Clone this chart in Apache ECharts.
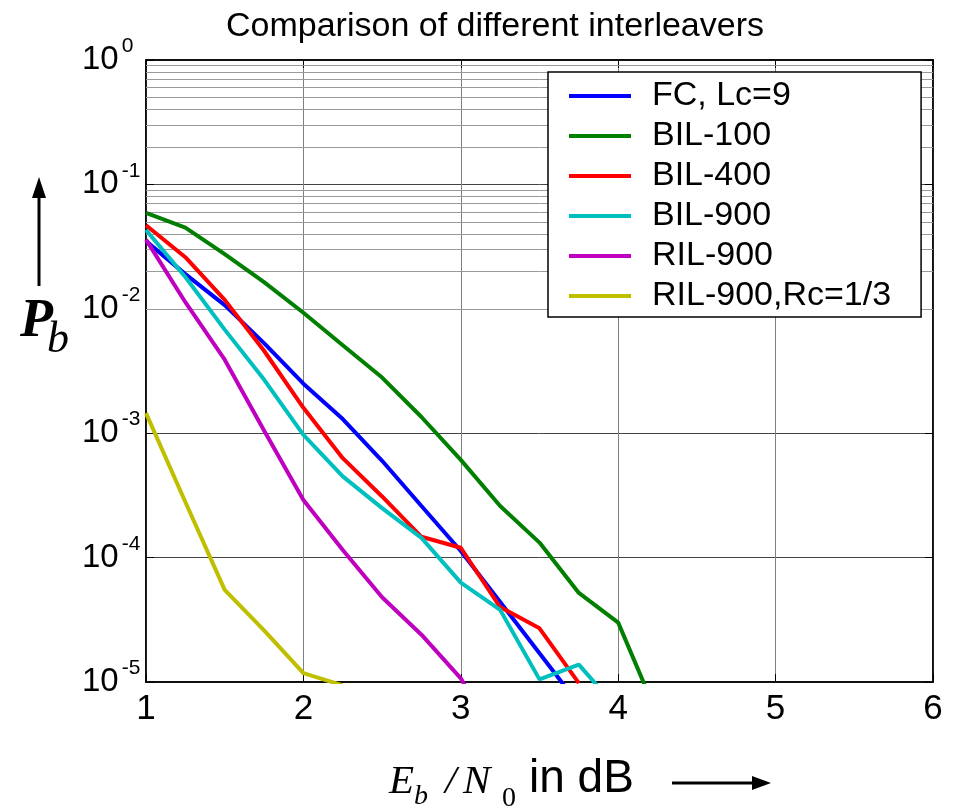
<!DOCTYPE html>
<html>
<head>
    <meta charset="utf-8">
    <title>Comparison of different interleavers</title>
    <script src="https://cdn.jsdelivr.net/npm/echarts@6/dist/echarts.min.js"></script>
</head>
<body style="margin:0;background:#fff;">
<div id="main" style="width:957px;height:809px;"></div>

<script type="text/javascript">
    // Eb/N0 in dB (x positions of the simulated points)
    var ebn0 = [1, 1.25, 1.5, 1.75, 2, 2.25, 2.5, 2.75, 3, 3.25, 3.5, 3.75, 4, 4.25];

    // bit error rates
    var fcLc9   = [0.035, 0.019, 0.0107, 0.0053, 0.0025, 0.0013, 0.00060, 0.00026, 0.000113, 0.000044, 0.000017, 0.0000066];
    var bil100  = [0.059, 0.045, 0.0275, 0.0164, 0.0093, 0.0051, 0.0028, 0.00135, 0.00061, 0.00026, 0.000132, 0.000052, 0.000030, 0.0000054];
    var bil400  = [0.047, 0.026, 0.0118, 0.0046, 0.0016, 0.00063, 0.00031, 0.000147, 0.00012, 0.000040, 0.000027, 0.0000098];
    var bil900  = [0.043, 0.018, 0.0068, 0.0027, 0.00097, 0.00045, 0.00025, 0.000144, 0.000063, 0.000038, 0.0000105, 0.0000138, 0.000006];
    var ril900  = [0.036, 0.0113, 0.0039, 0.00105, 0.00029, 0.000115, 0.000048, 0.000024, 0.0000107, 0.000003];
    var ril900r = [0.00145, 0.00028, 0.000055, 0.000026, 0.0000118, 0.0000094];

    var names  = ['FC, Lc=9', 'BIL-100', 'BIL-400', 'BIL-900', 'RIL-900', 'RIL-900,Rc=1/3'];
    var colors = ['#0000ff', '#007f00', '#ff0000', '#00bfbf', '#bf00bf', '#bfbf00'];
    var curves = [fcLc9, bil100, bil400, bil900, ril900, ril900r];

    // minor log grid (2..9 in every decade)
    var decades = [1e-5, 1e-4, 1e-3, 1e-2, 1e-1];
    var minorSteps = [2, 3, 4, 5, 6, 7, 8, 9];

    function pairs(ys) {
        var out = [];
        for (var i = 0; i < ys.length; i++) {
            out.push([ebn0[i], ys[i]]);
        }
        return out;
    }

    var minorLines = [];
    decades.forEach(function (d) {
        minorSteps.forEach(function (m) {
            minorLines.push({yAxis: m * d});
        });
    });

    var series = curves.map(function (ys, i) {
        return {
            name: names[i],
            type: 'line',
            data: pairs(ys),
            showSymbol: false,
            color: colors[i],
            lineStyle: {width: 4, color: colors[i]},
            clip: true,
            z: 3
        };
    });
    series.push({
        name: 'grid',
        type: 'line',
        data: [],
        silent: true,
        markLine: {
            silent: true,
            symbol: 'none',
            z: 1,
            label: {show: false},
            lineStyle: {color: '#9a9a9a', width: 1, type: 'solid'},
            data: minorLines
        }
    });

    var sansLabel = 'Liberation Sans, Arial, sans-serif';

    var option = {
        backgroundColor: '#fff',
        animation: false,
        title: {
            text: 'Comparison of different interleavers',
            left: 490,
            top: 5,
            textAlign: 'center',
            textStyle: {fontFamily: sansLabel, fontSize: 34, fontWeight: 'normal', color: '#000'}
        },
        grid: {
            left: 146, top: 60, right: 24, bottom: 127,
            show: true, borderColor: '#000', borderWidth: 1.5
        },
        legend: {
            data: names,
            orient: 'vertical',
            left: 548, top: 72,
            icon: 'rect',
            itemWidth: 62, itemHeight: 4,
            itemGap: 6,
            padding: [7, 30, 4, 21],
            backgroundColor: '#fff',
            borderColor: '#000', borderWidth: 1.5,
            textStyle: {fontFamily: sansLabel, fontSize: 34, color: '#000', padding: [0, 0, 0, 16]},
            z: 10
        },
        xAxis: [{
            type: 'value', min: 1, max: 6, interval: 1,
            axisLine: {show: true, lineStyle: {color: '#000', width: 1.5}},
            axisTick: {show: true, inside: true, length: 8, lineStyle: {color: '#000'}},
            axisLabel: {fontFamily: sansLabel, fontSize: 35, color: '#000', margin: 10},
            splitLine: {show: true, lineStyle: {color: '#808080', width: 1}}
        }, {
            type: 'value', min: 1, max: 6, interval: 1, position: 'top',
            axisLine: {show: true, lineStyle: {color: '#000', width: 1.5}},
            axisTick: {show: true, inside: true, length: 8, lineStyle: {color: '#000'}},
            axisLabel: {show: false},
            splitLine: {show: false}
        }],
        yAxis: [{
            type: 'log', logBase: 10, min: 1e-5, max: 1, splitNumber: 5,
            axisLine: {show: true, lineStyle: {color: '#000', width: 1.5}},
            axisTick: {show: true, inside: true, length: 8, lineStyle: {color: '#000'}},
            axisLabel: {
                align: 'left', margin: 64, color: '#000',
                formatter: function (v) {
                    return '{b|10}{s|' + Math.round(Math.log10(v)) + '}';
                },
                rich: {
                    b: {fontFamily: sansLabel, fontSize: 33, lineHeight: 48, color: '#000'},
                    s: {fontFamily: sansLabel, fontSize: 21, lineHeight: 20, verticalAlign: 'top', color: '#000', padding: [0, 0, 0, 3]}
                }
            },
            splitLine: {show: true, lineStyle: {color: '#444', width: 1}}
        }, {
            type: 'log', logBase: 10, min: 1e-5, max: 1, splitNumber: 5, position: 'right',
            axisLine: {show: true, lineStyle: {color: '#000', width: 1.5}},
            axisTick: {show: true, inside: true, length: 8, lineStyle: {color: '#000'}},
            axisLabel: {show: false},
            splitLine: {show: false}
        }],
        graphic: [
            // y axis name: arrow + P_b
            {type: 'line', shape: {x1: 39, y1: 286, x2: 39, y2: 192}, style: {stroke: '#000', lineWidth: 3}},
            {type: 'polygon', shape: {points: [[39, 177], [32, 198], [46, 198]]}, style: {fill: '#000'}},
            {type: 'text', style: {text: 'P', x: 20, y: 322, verticalAlign: 'middle', fill: '#000',
                font: 'italic bold 54px "Liberation Serif", "Times New Roman", serif'}},
            {type: 'text', style: {text: 'b', x: 47, y: 340, verticalAlign: 'middle', fill: '#000',
                font: 'italic 44px "Liberation Serif", "Times New Roman", serif'}},
            // x axis name
            {type: 'text', style: {text: 'E', x: 389, y: 782, verticalAlign: 'middle', fill: '#000',
                font: 'italic 41px "Liberation Serif", "Times New Roman", serif'}},
            {type: 'text', style: {text: 'b', x: 414, y: 797, verticalAlign: 'middle', fill: '#000',
                font: 'italic 28px "Liberation Serif", "Times New Roman", serif'}},
            {type: 'text', style: {text: '/', x: 445, y: 782, verticalAlign: 'middle', fill: '#000',
                font: 'italic 41px "Liberation Serif", "Times New Roman", serif'}},
            {type: 'text', style: {text: 'N', x: 463, y: 782, verticalAlign: 'middle', fill: '#000',
                font: 'italic 41px "Liberation Serif", "Times New Roman", serif'}},
            {type: 'text', style: {text: '0', x: 502, y: 799, verticalAlign: 'middle', fill: '#000',
                font: '28px "Liberation Serif", "Times New Roman", serif'}},
            {type: 'text', style: {text: 'in dB', x: 529, y: 779, verticalAlign: 'middle', fill: '#000',
                font: '46px "Liberation Sans", Arial, sans-serif'}},
            {type: 'line', shape: {x1: 672, y1: 783, x2: 760, y2: 783}, style: {stroke: '#000', lineWidth: 3}},
            {type: 'polygon', shape: {points: [[771, 783], [752, 776], [752, 790]]}, style: {fill: '#000'}}
        ],
        series: series
    };

    var myChart = echarts.init(document.getElementById('main'));
    myChart.setOption(option);
</script>
</body>
</html>
